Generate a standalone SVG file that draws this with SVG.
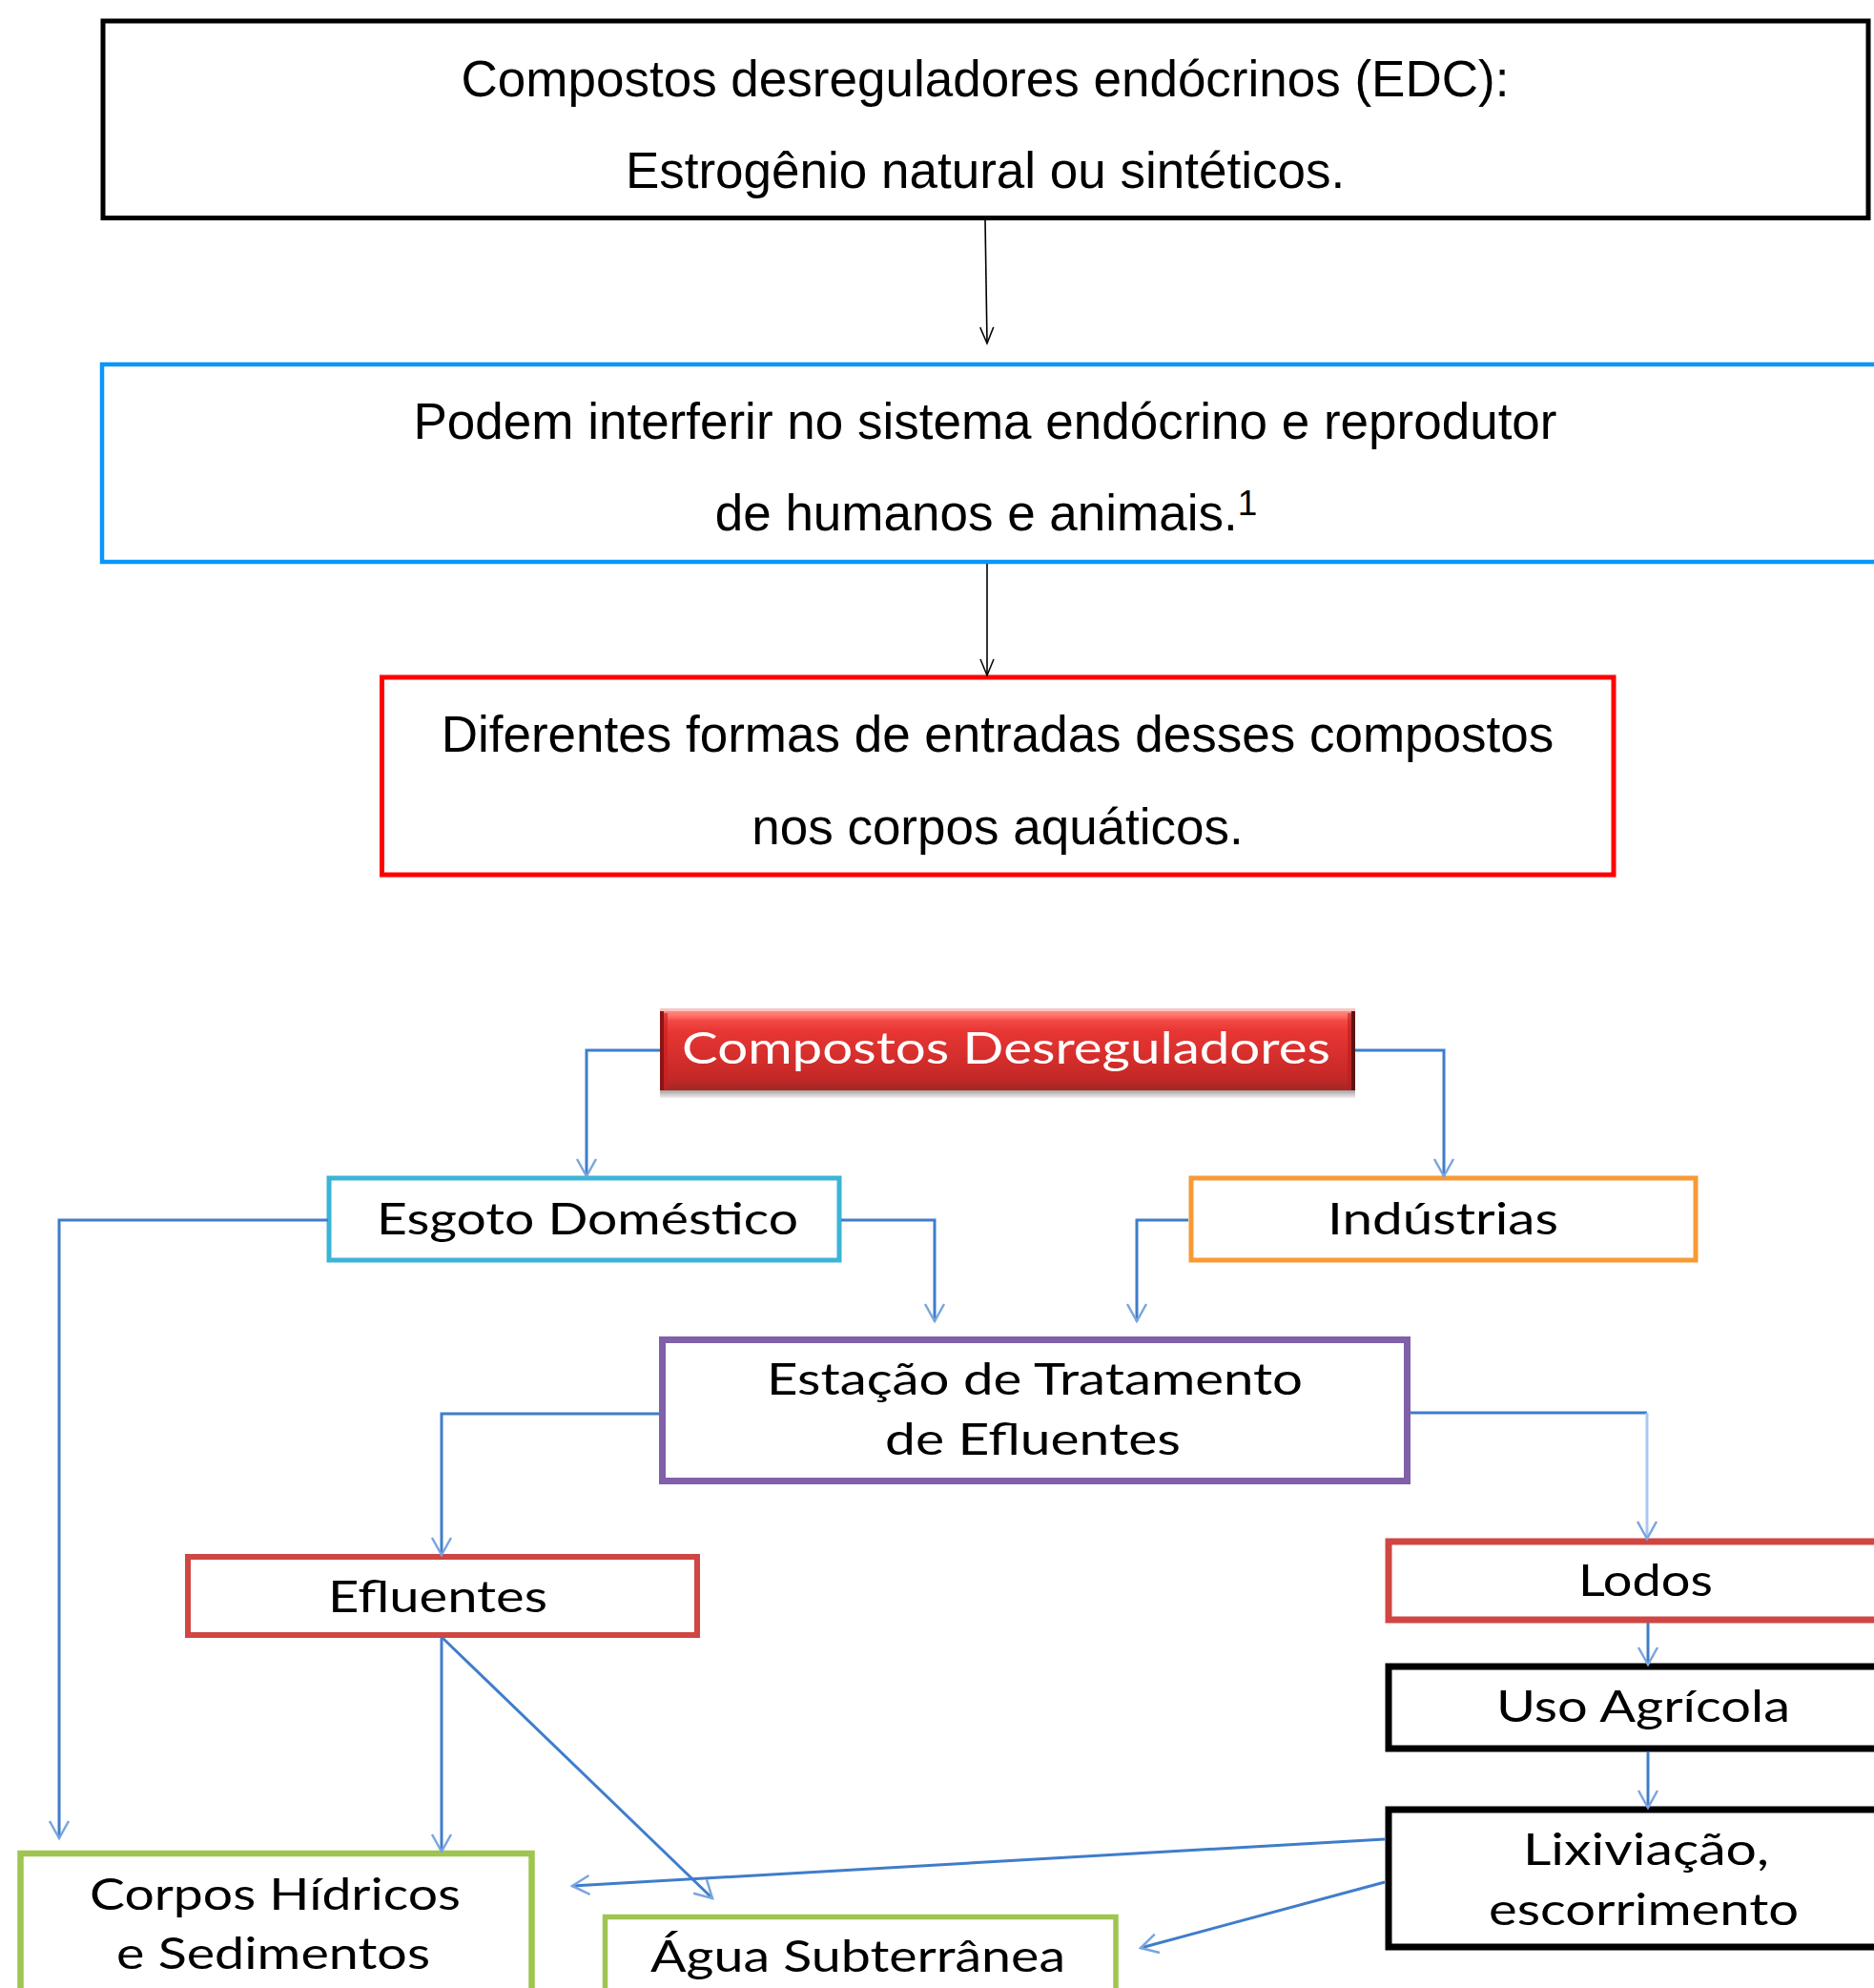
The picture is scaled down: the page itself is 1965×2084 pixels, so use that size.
<svg xmlns="http://www.w3.org/2000/svg" width="1965" height="2084" viewBox="0 0 1965 2084">
<style>
.t{font-family:"Liberation Sans",Arial,sans-serif;font-size:53px;fill:#000;text-anchor:middle}
.c{font-family:Lato,"Open Sans",sans-serif;font-size:46px;fill:#000}
.box{fill:#fff}
.cn{fill:none;stroke:#3F7DCB;stroke-width:3}
.bk{fill:none;stroke:#000;stroke-width:1.6}
</style>
<defs>
<marker id="ab" markerUnits="userSpaceOnUse" markerWidth="40" markerHeight="40" viewBox="-20 -20 40 40" refX="0" refY="0" orient="auto" overflow="visible">
<path d="M-18,-10 L0,0 L-18,10" fill="none" stroke="#7AA5DE" stroke-width="2.5"/>
</marker>
<marker id="ak" markerUnits="userSpaceOnUse" markerWidth="40" markerHeight="40" viewBox="-20 -20 40 40" refX="0" refY="0" orient="auto" overflow="visible">
<path d="M-17,-7 L0,0 L-17,7" fill="none" stroke="#000" stroke-width="1.5"/>
</marker>
<linearGradient id="hg" x1="0" y1="0" x2="0" y2="1">
<stop offset="0" stop-color="#FF8A82"/>
<stop offset="0.06" stop-color="#FF7068"/>
<stop offset="0.12" stop-color="#F24A44"/>
<stop offset="0.25" stop-color="#E83634"/>
<stop offset="0.85" stop-color="#C42826"/>
<stop offset="1" stop-color="#A02826"/>
</linearGradient>
<linearGradient id="sg" x1="0" y1="0" x2="0" y2="1">
<stop offset="0" stop-color="#A8A0A0"/>
<stop offset="1" stop-color="#F0F0F0"/>
</linearGradient>
</defs>

<g id="box-edc">
<rect x="108" y="22" width="1851" height="206.5" class="box" stroke="#000" stroke-width="5"/>
<text class="t" x="1033" y="101">Compostos desreguladores endócrinos (EDC):</text>
<text class="t" x="1033" y="197">Estrogênio natural ou sintéticos.</text>
</g>

<g id="box-interferir">
<rect x="107" y="382" width="1870" height="207" class="box" stroke="#0A96FA" stroke-width="4.5"/>
<text class="t" x="1033" y="460">Podem interferir no sistema endócrino e reprodutor</text>
<text class="t" x="1034" y="556">de humanos e animais.<tspan font-size="37" dy="-16">1</tspan></text>
</g>

<g id="box-entradas">
<rect x="400.5" y="710" width="1291.5" height="207" class="box" stroke="#FF0000" stroke-width="5"/>
<text class="t" x="1046" y="788">Diferentes formas de entradas desses compostos</text>
<text class="t" x="1046" y="885">nos corpos aquáticos.</text>
</g>

<g id="header">
<rect x="692" y="1143" width="729" height="8" fill="url(#sg)"/>
<rect x="692" y="1057" width="729" height="4" fill="#F8C6C4"/>
<rect x="692" y="1060" width="729" height="83" fill="url(#hg)"/>
<rect x="692" y="1060" width="4" height="83" fill="#8E1414"/>
<rect x="696" y="1062" width="4" height="81" fill="#C42020" opacity="0.6"/>
<rect x="1417" y="1060" width="4" height="83" fill="#5A1616"/>
<rect x="1413" y="1062" width="4" height="81" fill="#B81E1E" opacity="0.6"/>
<text class="c" x="715" y="1115" style="fill:#fff" textLength="680" lengthAdjust="spacingAndGlyphs">Compostos Desreguladores</text>
</g>

<g id="esgoto">
<rect x="345" y="1235" width="535" height="86" class="box" stroke="#3BB4D6" stroke-width="5"/>
<text class="c" x="395" y="1294" textLength="442" lengthAdjust="spacingAndGlyphs">Esgoto Doméstico</text>
</g>

<g id="industrias">
<rect x="1249" y="1235" width="529" height="86" class="box" stroke="#F79A36" stroke-width="5"/>
<text class="c" x="1392" y="1294" textLength="242" lengthAdjust="spacingAndGlyphs">Indústrias</text>
</g>

<g id="ete">
<rect x="694.5" y="1404.5" width="781" height="148" class="box" stroke="#8060A8" stroke-width="7"/>
<text class="c" x="804" y="1462" textLength="562" lengthAdjust="spacingAndGlyphs">Estação de Tratamento</text>
<text class="c" x="928" y="1525" textLength="310" lengthAdjust="spacingAndGlyphs">de Efluentes</text>
</g>

<g id="efluentes">
<rect x="197" y="1632" width="534" height="82" class="box" stroke="#CF4642" stroke-width="6"/>
<text class="c" x="344" y="1690" textLength="230" lengthAdjust="spacingAndGlyphs">Efluentes</text>
</g>

<g id="lodos">
<rect x="1456" y="1616" width="520" height="82" class="box" stroke="#CF4642" stroke-width="7"/>
<text class="c" x="1655" y="1673" textLength="141" lengthAdjust="spacingAndGlyphs">Lodos</text>
</g>

<g id="uso-agricola">
<rect x="1456" y="1747" width="520" height="86" class="box" stroke="#000" stroke-width="7"/>
<text class="c" x="1569" y="1805" textLength="308" lengthAdjust="spacingAndGlyphs">Uso Agrícola</text>
</g>

<g id="lixiviacao">
<rect x="1456" y="1897" width="520" height="144" class="box" stroke="#000" stroke-width="7"/>
<text class="c" x="1597" y="1955" textLength="258" lengthAdjust="spacingAndGlyphs">Lixiviação,</text>
<text class="c" x="1561" y="2018" textLength="325" lengthAdjust="spacingAndGlyphs">escorrimento</text>
</g>

<g id="corpos-hidricos">
<rect x="21.5" y="1943" width="536" height="160" class="box" stroke="#9EC550" stroke-width="6.5"/>
<text class="c" x="94" y="2002" textLength="389" lengthAdjust="spacingAndGlyphs">Corpos Hídricos</text>
<text class="c" x="122" y="2064" textLength="329" lengthAdjust="spacingAndGlyphs">e Sedimentos</text>
</g>

<g id="agua-subterranea">
<rect x="634.5" y="2009.5" width="535.5" height="100" class="box" stroke="#9EC550" stroke-width="5.5"/>
<text class="c" x="682" y="2067" textLength="435" lengthAdjust="spacingAndGlyphs">Água Subterrânea</text>
</g>

<g id="connectors">
<path class="bk" d="M1033,231 L1035,360" marker-end="url(#ak)"/>
<path class="bk" d="M1035,591 V708" marker-end="url(#ak)"/>
<path class="cn" d="M692,1101 H615 V1233" marker-end="url(#ab)"/>
<path class="cn" d="M1421,1101 H1514 V1233" marker-end="url(#ab)"/>
<path class="cn" d="M882,1279 H980 V1385" marker-end="url(#ab)"/>
<path class="cn" d="M1246,1279 H1192 V1385" marker-end="url(#ab)"/>
<path class="cn" d="M344,1279 H62 V1927" marker-end="url(#ab)"/>
<path class="cn" d="M691,1482 H463 V1630" marker-end="url(#ab)"/>
<path class="cn" d="M1479,1481 H1727"/>
<path class="cn" d="M1727,1481 V1613" style="stroke:#A8C8F0" marker-end="url(#ab)"/>
<path class="cn" d="M1728,1701 V1745" marker-end="url(#ab)"/>
<path class="cn" d="M1728,1836 V1895" marker-end="url(#ab)"/>
<path class="cn" d="M463,1717 V1941" marker-end="url(#ab)"/>
<path class="cn" d="M464,1717 L747,1990" marker-end="url(#ab)"/>
<path class="cn" d="M1452,1928 L600,1977" marker-end="url(#ab)"/>
<path class="cn" d="M1452,1973 L1196,2042" marker-end="url(#ab)"/>
</g>
</svg>
